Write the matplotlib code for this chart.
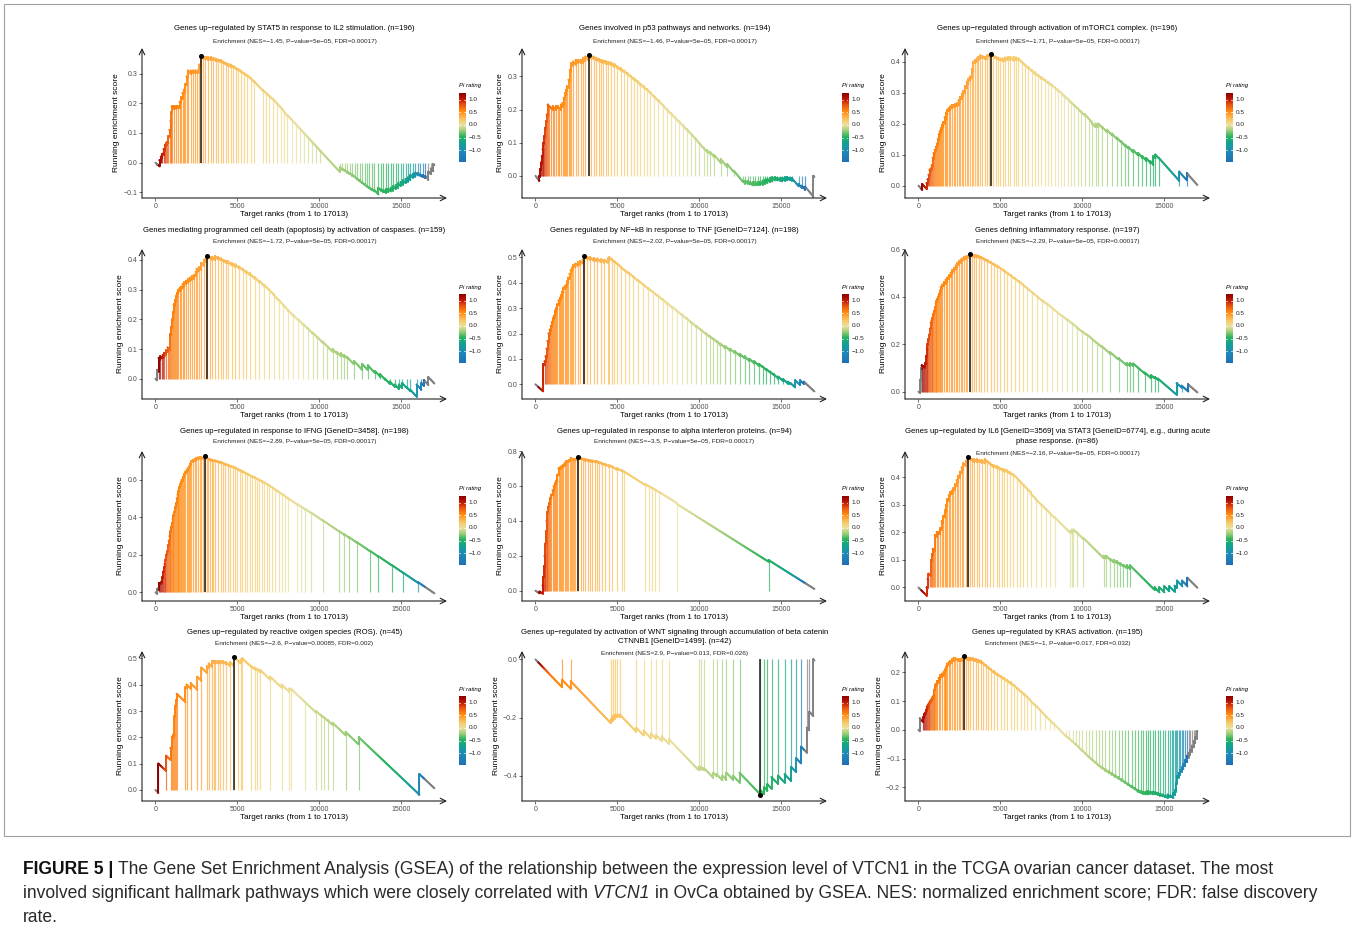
import numpy as np
import matplotlib
matplotlib.use("Agg")
import matplotlib.pyplot as plt
from matplotlib.collections import LineCollection
from matplotlib.colors import LinearSegmentedColormap, Normalize
from matplotlib.patches import Rectangle

plt.rcParams['font.family'] = ['Liberation Sans', 'DejaVu Sans']
plt.rcParams['axes.unicode_minus'] = True

W, H, DPI = 1354, 934, 100
N_RANKS = 17013

# ---------------------------------------------------------------- data
titles = [
    ["Genes up\u2212regulated by STAT5 in response to IL2 stimulation. (n=196)"],
    ["Genes involved in p53 pathways and networks. (n=194)"],
    ["Genes up\u2212regulated through activation of mTORC1 complex. (n=196)"],
    ["Genes mediating programmed cell death (apoptosis) by activation of caspases. (n=159)"],
    ["Genes regulated by NF\u2212kB in response to TNF [GeneID=7124]. (n=198)"],
    ["Genes defining inflammatory response. (n=197)"],
    ["Genes up\u2212regulated in response to IFNG [GeneID=3458]. (n=198)"],
    ["Genes up\u2212regulated in response to alpha interferon proteins. (n=94)"],
    ["Genes up\u2212regulated by IL6 [GeneID=3569] via STAT3 [GeneID=6774], e.g., during acute",
     "phase response. (n=86)"],
    ["Genes up\u2212regulated by reactive oxigen species (ROS). (n=45)"],
    ["Genes up\u2212regulated by activation of WNT signaling through accumulation of beta catenin",
     "CTNNB1 [GeneID=1499]. (n=42)"],
    ["Genes up\u2212regulated by KRAS activation. (n=195)"],
]
subtitles = [
    "Enrichment (NES=\u22121.45, P\u2212value=5e\u221205, FDR=0.00017)",
    "Enrichment (NES=\u22121.46, P\u2212value=5e\u221205, FDR=0.00017)",
    "Enrichment (NES=\u22121.71, P\u2212value=5e\u221205, FDR=0.00017)",
    "Enrichment (NES=\u22121.72, P\u2212value=5e\u221205, FDR=0.00017)",
    "Enrichment (NES=\u22122.02, P\u2212value=5e\u221205, FDR=0.00017)",
    "Enrichment (NES=\u22122.29, P\u2212value=5e\u221205, FDR=0.00017)",
    "Enrichment (NES=\u22122.89, P\u2212value=5e\u221205, FDR=0.00017)",
    "Enrichment (NES=\u22123.5, P\u2212value=5e\u221205, FDR=0.00017)",
    "Enrichment (NES=\u22122.16, P\u2212value=5e\u221205, FDR=0.00017)",
    "Enrichment (NES=\u22122.6, P\u2212value=0.00085, FDR=0.002)",
    "Enrichment (NES=2.9, P\u2212value=0.013, FDR=0.026)",
    "Enrichment (NES=\u22121, P\u2212value=0.017, FDR=0.032)",
]
set_sizes = [196, 194, 196, 159, 198, 197, 198, 94, 86, 45, 42, 195]

# (rank of member gene, running enrichment score right after it)
hits_stat5 = [(120,-0.005),(250,0.008),(330,0.02),(420,0.03),(500,0.045),(580,0.06),(650,0.065),(720,0.07),
    (790,0.09),(860,0.11),(920,0.14),(960,0.17),(1000,0.19),(1150,0.19),(1280,0.19),(1390,0.19),(1480,0.205),
    (1560,0.22),(1650,0.235),(1730,0.245),(1820,0.265),(1900,0.29),(1980,0.31),(2150,0.31),(2300,0.31),
    (2430,0.31),(2550,0.31),(2670,0.33),(2755,0.36),(2900,0.358),(3050,0.356),(3200,0.355),(3370,0.355),
    (3530,0.352),(3680,0.35),(3830,0.347),(3980,0.345),(4130,0.34),(4290,0.335),(4440,0.332),(4590,0.33),
    (4750,0.325),(4900,0.32),(5050,0.315),(5200,0.31),(5400,0.302),(5600,0.295),(5800,0.285),(6000,0.275),
    (6550,0.245),(6750,0.235),(6950,0.225),(7150,0.215),(7400,0.2),(7650,0.185),(7850,0.17),(8050,0.16),
    (8300,0.145),(8550,0.13),(8800,0.115),(9050,0.1),(9300,0.085),(9550,0.07),(9800,0.055),(10050,0.04),
    (11250,-0.015),(11400,-0.02),(11550,-0.025),(11700,-0.03),(11850,-0.035),(12000,-0.04),(12150,-0.047),
    (12300,-0.054),(12450,-0.06),(12600,-0.066),(12750,-0.072),(12900,-0.078),(13050,-0.084),(13200,-0.088),
    (13350,-0.092),(13600,-0.085),(13750,-0.09),(13900,-0.093),(14050,-0.09),(14200,-0.088),(14350,-0.085),
    (14500,-0.08),(14650,-0.076),(14800,-0.07),(14950,-0.065),(15100,-0.06),(15250,-0.055),(15400,-0.05),
    (15550,-0.042),(15700,-0.038),(15850,-0.034),(16000,-0.035),(16150,-0.04),(16300,-0.043),(16450,-0.045),
    (16650,-0.03),(16800,-0.02),(16950,-0.005)]
hits_p53 = [(130,-0.008),(240,0.0),(290,0.02),(340,0.04),(390,0.06),(440,0.08),(490,0.1),(540,0.12),
    (590,0.145),(640,0.165),(690,0.185),(750,0.215),(850,0.21),(950,0.205),(1050,0.21),(1150,0.205),
    (1250,0.21),(1350,0.21),(1450,0.205),(1550,0.215),(1650,0.22),(1730,0.235),(1800,0.25),(1880,0.26),
    (1950,0.27),(2020,0.29),(2100,0.32),(2180,0.34),(2300,0.345),(2450,0.35),(2600,0.35),(2750,0.35),
    (2900,0.355),(3050,0.36),(3240,0.366),(3400,0.362),(3550,0.36),(3700,0.356),(3850,0.353),(4000,0.35),
    (4150,0.348),(4300,0.346),(4450,0.344),(4600,0.342),(4800,0.338),(5000,0.33),(5200,0.325),(5400,0.318),
    (5600,0.31),(5800,0.302),(6000,0.295),(6200,0.287),(6400,0.278),(6600,0.27),(6800,0.262),(7000,0.252),
    (7250,0.24),(7500,0.228),(7750,0.215),(8000,0.202),(8250,0.19),(8500,0.177),(8750,0.165),(9000,0.152),
    (9250,0.14),(9500,0.127),(9750,0.113),(10000,0.098),(10250,0.085),(10450,0.078),(10650,0.072),
    (10900,0.063),(11300,0.05),(11700,0.035),(12100,0.015),(12650,-0.015),(12800,-0.015),(12950,-0.017),
    (13100,-0.02),(13250,-0.02),(13400,-0.02),(13550,-0.019),(13700,-0.018),(13850,-0.015),(14000,-0.012),
    (14150,-0.01),(14300,-0.008),(14450,-0.005),(14600,-0.005),(14750,-0.006),(14900,-0.008),(15050,-0.006),
    (15200,-0.005),(15350,-0.004),(15500,-0.006),(15650,-0.008),(16050,-0.025),(16250,-0.03),(16450,-0.033),
    (16950,0.0)]
hits_mtorc1 = [(230,0.005),(500,0.008),(560,0.02),(620,0.035),(680,0.05),(740,0.055),(810,0.065),(870,0.09),
    (930,0.105),(990,0.115),(1060,0.125),(1120,0.135),(1180,0.15),(1240,0.165),(1300,0.175),(1370,0.185),
    (1440,0.195),(1520,0.205),(1600,0.22),(1690,0.235),(1770,0.245),(1850,0.25),(1950,0.255),(2050,0.26),
    (2150,0.26),(2250,0.262),(2350,0.265),(2450,0.275),(2550,0.285),(2650,0.295),(2745,0.305),(2850,0.32),
    (2950,0.335),(3050,0.345),(3150,0.352),(3250,0.375),(3355,0.4),(3450,0.405),(3560,0.41),(3660,0.415),
    (3760,0.42),(3900,0.418),(4070,0.415),(4200,0.42),(4300,0.422),(4410,0.426),(4550,0.42),(4700,0.416),
    (4850,0.413),(5000,0.41),(5150,0.41),(5300,0.413),(5450,0.415),(5600,0.415),(5800,0.415),(5950,0.413),
    (6100,0.41),(6300,0.4),(6500,0.39),(6700,0.382),(6900,0.372),(7100,0.365),(7300,0.357),(7500,0.35),
    (7700,0.342),(7900,0.335),(8100,0.327),(8300,0.318),(8500,0.31),(8700,0.3),(8900,0.29),(9100,0.28),
    (9300,0.27),(9500,0.26),(9700,0.25),(9900,0.24),(10150,0.23),(10400,0.215),(10600,0.2),(10800,0.2),
    (10980,0.2),(11200,0.19),(11500,0.18),(11800,0.168),(12100,0.155),(12350,0.143),(12600,0.132),
    (12800,0.125),(13100,0.115),(13400,0.105),(13650,0.095),(13900,0.088),(14150,0.078),(14330,0.095),
    (14450,0.1),(14650,0.09),(15900,0.045),(16370,0.04)]
hits_caspase = [(100,0.03),(200,0.07),(300,0.075),(400,0.072),(450,0.08),(550,0.087),(650,0.095),(740,0.105),
    (830,0.1),(885,0.15),(950,0.175),(1030,0.2),(1080,0.225),(1120,0.25),(1200,0.265),(1270,0.28),(1330,0.29),
    (1390,0.3),(1480,0.305),(1560,0.31),(1660,0.318),(1770,0.325),(1870,0.33),(1980,0.335),(2100,0.34),
    (2210,0.345),(2360,0.35),(2450,0.36),(2510,0.37),(2650,0.375),(2800,0.39),(2950,0.4),(3060,0.405),
    (3160,0.415),(3300,0.41),(3450,0.41),(3630,0.413),(3800,0.41),(3980,0.405),(4150,0.4),(4300,0.397),
    (4430,0.395),(4650,0.39),(4870,0.385),(5100,0.378),(5310,0.37),(5530,0.362),(5750,0.355),(6050,0.342),
    (6340,0.33),(6650,0.315),(6930,0.3),(7200,0.283),(7520,0.265),(7800,0.248),(8110,0.23),(8400,0.215),
    (8700,0.2),(9000,0.185),(9290,0.17),(9600,0.155),(9880,0.14),(10200,0.125),(10470,0.11),(10800,0.1),
    (11060,0.09),(11300,0.085),(11500,0.08),(11700,0.072),(12100,0.06),(12600,0.05),(12950,0.045),
    (13400,0.025),(13700,0.015),(14000,0.0),(14300,-0.01),(14600,-0.02),(14850,-0.02),(15050,-0.015),
    (15340,-0.03),(15550,-0.038),(15930,-0.02),(16220,-0.015),(16370,-0.005),(16650,0.005)]
hits_tnf = [(470,0.08),(560,0.09),(620,0.11),(680,0.14),(740,0.17),(800,0.2),(870,0.215),(940,0.23),
    (1000,0.245),(1060,0.26),(1120,0.27),(1190,0.29),(1270,0.3),(1340,0.315),(1410,0.33),(1490,0.34),
    (1560,0.35),(1640,0.365),(1710,0.38),(1780,0.385),(1855,0.39),(1930,0.405),(2000,0.42),(2080,0.435),
    (2150,0.45),(2230,0.46),(2300,0.47),(2440,0.475),(2590,0.48),(2740,0.485),(2890,0.49),(2975,0.505),
    (3150,0.502),(3330,0.5),(3550,0.497),(3770,0.495),(4000,0.492),(4210,0.49),(4400,0.495),(4505,0.5),
    (4650,0.492),(4800,0.485),(5000,0.475),(5240,0.46),(5450,0.45),(5680,0.44),(5950,0.425),(6270,0.41),
    (6550,0.395),(6860,0.38),(7150,0.365),(7450,0.35),(7750,0.335),(8040,0.32),(8350,0.305),(8630,0.29),
    (8920,0.275),(9220,0.26),(9500,0.245),(9810,0.23),(10100,0.215),(10400,0.2),(10620,0.19),(10840,0.18),
    (11050,0.17),(11280,0.16),(11580,0.15),(11870,0.14),(12150,0.13),(12460,0.12),(12750,0.11),(13050,0.1),
    (13350,0.09),(13640,0.08),(13850,0.07),(14080,0.06),(14300,0.05),(14520,0.04),(14810,0.03),(15110,0.02),
    (15400,0.01),(15550,0.005),(15840,0.015),(16140,0.015),(16370,0.01)]
hits_inflam = [(100,0.05),(150,0.1),(200,0.11),(300,0.108),(345,0.105),(405,0.12),(460,0.15),(510,0.18),
    (550,0.2),(600,0.22),(650,0.24),(700,0.265),(750,0.29),(800,0.3),(850,0.31),(900,0.325),(950,0.34),
    (1000,0.355),(1055,0.37),(1100,0.38),(1155,0.39),(1200,0.4),(1255,0.41),(1310,0.425),(1360,0.44),
    (1460,0.45),(1560,0.46),(1660,0.47),(1765,0.48),(1865,0.49),(1965,0.5),(2070,0.51),(2170,0.52),
    (2270,0.53),(2370,0.54),(2470,0.548),(2575,0.555),(2675,0.56),(2775,0.565),(2880,0.568),(2980,0.57),
    (3120,0.577),(3250,0.576),(3385,0.575),(3540,0.573),(3690,0.57),(3840,0.565),(3990,0.56),(4200,0.553),
    (4400,0.545),(4600,0.537),(4800,0.53),(5000,0.52),(5210,0.51),(5410,0.5),(5615,0.49),(5870,0.477),
    (6120,0.465),(6370,0.45),(6630,0.435),(6930,0.418),(7240,0.4),(7540,0.385),(7845,0.37),(8150,0.352),
    (8450,0.335),(8750,0.32),(9060,0.305),(9360,0.288),(9670,0.27),(9970,0.255),(10275,0.24),(10580,0.222),
    (10885,0.205),(11190,0.19),(11700,0.165),(12200,0.14),(12700,0.12),(12900,0.12),(13100,0.118),
    (13400,0.1),(13800,0.08),(14200,0.068),(14400,0.062),(14600,0.055),(15750,0.035),(16050,0.025),
    (16450,0.03)]
hits_ifng = [(120,0.02),(210,0.05),(300,0.05),(360,0.055),(415,0.08),(470,0.11),(520,0.135),(560,0.15),
    (610,0.175),(660,0.2),(710,0.22),(760,0.25),(810,0.275),(860,0.3),(910,0.325),(960,0.35),(1000,0.37),
    (1050,0.39),(1100,0.41),(1150,0.43),(1200,0.455),(1250,0.475),(1300,0.5),(1350,0.52),(1400,0.54),
    (1450,0.56),(1500,0.575),(1550,0.59),(1600,0.6),(1680,0.615),(1750,0.63),(1820,0.64),(1895,0.65),
    (1970,0.66),(2040,0.67),(2110,0.685),(2190,0.7),(2290,0.705),(2390,0.71),(2490,0.715),(2600,0.718),
    (2700,0.72),(2780,0.72),(2930,0.716),(3020,0.725),(3150,0.715),(3230,0.71),(3350,0.708),(3450,0.706),
    (3520,0.705),(3650,0.702),(3800,0.698),(3970,0.695),(4100,0.69),(4250,0.685),(4410,0.68),(4550,0.675),
    (4700,0.67),(4855,0.665),(5000,0.658),(5150,0.652),(5300,0.645),(5450,0.638),(5600,0.632),(5740,0.625),
    (5900,0.618),(6050,0.612),(6200,0.605),(6335,0.6),(6500,0.592),(6650,0.585),(6800,0.577),(6925,0.57),
    (7100,0.56),(7300,0.548),(7520,0.535),(7700,0.525),(7900,0.512),(8110,0.5),(8650,0.47),(8900,0.456),
    (9150,0.443),(9500,0.424),(10200,0.384),(11200,0.326),(11500,0.31),(11800,0.294),(12300,0.266),
    (13100,0.22),(13600,0.192),(14400,0.146),(15100,0.105),(16000,0.055)]
hits_ifna = [(250,-0.005),(440,0.03),(480,0.08),(520,0.14),(560,0.2),(600,0.27),(640,0.34),(680,0.4),
    (720,0.45),(770,0.48),(825,0.5),(900,0.53),(970,0.55),(1050,0.575),(1120,0.6),(1200,0.615),(1265,0.63),
    (1340,0.665),(1410,0.7),(1490,0.705),(1560,0.71),(1640,0.715),(1710,0.72),(1780,0.73),(1855,0.74),
    (1930,0.742),(2000,0.745),(2080,0.75),(2150,0.76),(2230,0.755),(2300,0.75),(2370,0.752),(2440,0.755),
    (2520,0.76),(2590,0.765),(2750,0.76),(2890,0.755),(3050,0.752),(3180,0.75),(3350,0.747),(3475,0.745),
    (3650,0.742),(3770,0.74),(3900,0.736),(4065,0.73),(4250,0.725),(4500,0.718),(4650,0.712),(5000,0.7),
    (5250,0.69),(5400,0.682),(6700,0.61),(6900,0.6),(7100,0.59),(7300,0.578),(7550,0.565),(8650,0.495),
    (14220,0.175)]
hits_il6 = [(500,0.0),(560,0.03),(610,0.05),(710,0.045),(770,0.1),(820,0.12),(870,0.14),(950,0.135),
    (1010,0.19),(1115,0.2),(1215,0.2),(1320,0.215),(1420,0.24),(1520,0.26),(1620,0.28),(1700,0.3),
    (1765,0.32),(1850,0.335),(1925,0.345),(2030,0.35),(2130,0.36),(2230,0.375),(2330,0.39),(2430,0.405),
    (2535,0.42),(2630,0.435),(2735,0.45),(2900,0.46),(3000,0.475),(3120,0.468),(3245,0.465),(3400,0.465),
    (3550,0.465),(3700,0.462),(3850,0.462),(4050,0.465),(4200,0.458),(4360,0.45),(4560,0.445),(4765,0.44),
    (4920,0.435),(5070,0.43),(5220,0.428),(5370,0.425),(5580,0.418),(5780,0.41),(6000,0.397),(6180,0.385),
    (6400,0.372),(6590,0.36),(6850,0.34),(7150,0.32),(7500,0.3),(7800,0.283),(8000,0.27),(8300,0.255),
    (9250,0.205),(9350,0.21),(9450,0.21),(9650,0.2),(10050,0.18),(11300,0.115),(11450,0.115),(11700,0.103),
    (11900,0.1),(12100,0.095),(12300,0.088),(12500,0.082),(12700,0.08),(12900,0.08),(14400,0.0),(14700,0.0),
    (15000,0.004),(15300,0.004),(15620,0.006),(15760,0.025),(16070,0.025),(16400,0.035)]
hits_ros = [(180,0.10),(650,0.13),(920,0.16),(1000,0.20),(1070,0.21),(1160,0.28),(1200,0.32),(1250,0.34),
    (1300,0.365),(1830,0.39),(1900,0.40),(2150,0.405),(2550,0.43),(2800,0.465),(3150,0.47),(3250,0.48),
    (3450,0.49),(3550,0.49),(3650,0.49),(3800,0.49),(3950,0.49),(4100,0.49),(4300,0.485),(4550,0.485),
    (4800,0.505),(5050,0.49),(5200,0.495),(5300,0.50),(5850,0.47),(6050,0.465),(6200,0.46),(6400,0.455),
    (7000,0.43),(7700,0.40),(8150,0.385),(8250,0.385),(9100,0.335),(9800,0.30),(10100,0.285),(10300,0.275),
    (10500,0.265),(10800,0.255),(11600,0.22),(12400,0.20),(16100,0.06)]
hits_wnt = [(1630,-0.07),(2150,-0.075),(4600,-0.205),(4700,-0.195),(4850,-0.19),(5000,-0.19),(5150,-0.19),
    (6150,-0.235),(6600,-0.245),(7050,-0.255),(7350,-0.26),(7700,-0.265),(8150,-0.275),(9950,-0.37),
    (10100,-0.37),(10300,-0.375),(10850,-0.39),(11050,-0.395),(11400,-0.40),(11650,-0.39),(12050,-0.40),
    (12450,-0.39),(13720,-0.45),(13950,-0.44),(14150,-0.43),(14400,-0.405),(14800,-0.40),(15200,-0.395),
    (15600,-0.37),(15900,-0.34),(16200,-0.30),(16550,-0.235),(16700,-0.18),(16950,0.0)]
hits_kras = [(80,0.04),(300,0.045),(360,0.055),(410,0.06),(460,0.07),(510,0.08),(560,0.085),(615,0.09),
    (665,0.095),(715,0.1),(770,0.105),(820,0.11),(870,0.115),(920,0.12),(970,0.14),(1020,0.155),(1070,0.16),
    (1125,0.17),(1230,0.18),(1330,0.19),(1430,0.195),(1535,0.2),(1590,0.205),(1640,0.21),(1690,0.22),
    (1740,0.23),(1845,0.235),(1945,0.24),(2050,0.245),(2150,0.25),(2250,0.248),(2350,0.245),(2450,0.245),
    (2560,0.245),(2660,0.248),(2780,0.255),(2900,0.25),(3020,0.25),(3170,0.25),(3320,0.248),(3480,0.245),
    (3630,0.243),(3785,0.24),(3940,0.232),(4090,0.225),(4250,0.218),(4400,0.21),(4600,0.203),(4810,0.195),
    (5020,0.187),(5220,0.18),(5420,0.172),(5625,0.165),(5830,0.155),(6035,0.145),(6240,0.135),(6445,0.125),
    (6650,0.113),(6855,0.1),(7100,0.088),(7400,0.07),(7700,0.052),(8000,0.035),(8250,0.022),(9000,-0.02),
    (9200,-0.03),(9400,-0.04),(9600,-0.05),(9800,-0.062),(10000,-0.072),(10200,-0.083),(10400,-0.093),
    (10600,-0.103),(10800,-0.113),(11000,-0.122),(11200,-0.13),(11400,-0.137),(11600,-0.144),(11800,-0.151),
    (12000,-0.158),(12200,-0.165),(12400,-0.172),(12600,-0.18),(12800,-0.188),(13000,-0.195),(13200,-0.203),
    (13400,-0.21),(13550,-0.213),(13700,-0.215),(13850,-0.215),(14000,-0.213),(14150,-0.215),(14300,-0.215),
    (14450,-0.217),(14600,-0.22),(14750,-0.222),(14900,-0.225),(15050,-0.228),(15200,-0.225),(15350,-0.228),
    (15450,-0.23),(15550,-0.22),(15650,-0.21),(15720,-0.185),(15760,-0.16),(15860,-0.15),(15960,-0.14),
    (16060,-0.13),(16160,-0.12),(16260,-0.105),(16370,-0.09),(16470,-0.08),(16575,-0.07),(16680,-0.055),
    (16780,-0.04),(16880,-0.025),(16980,-0.005)]

panel_hits = [hits_stat5, hits_p53, hits_mtorc1, hits_caspase, hits_tnf, hits_inflam,
              hits_ifng, hits_ifna, hits_il6, hits_ros, hits_wnt, hits_kras]

# Pi rating of genes along the ranked list
pi_rank = [0, 180, 400, 650, 1000, 2000, 3500, 5500, 8000, 10000, 12000, 13500, 14800, 15600, 16050, 16450, 17013]
pi_value = [1.6, 1.27, 1.05, 0.8, 0.6, 0.5, 0.35, 0.2, 0.05, -0.1, -0.25, -0.4, -0.55, -0.75, -1.0, -1.47, -1.8]
PI_MIN, PI_MAX = -1.47, 1.27
cbar_ticks = [1.0, 0.5, 0.0, -0.5, -1.0]

x_ticks = [0, 5000, 10000, 15000]
y_ticks = [[-0.1, 0.0, 0.1, 0.2, 0.3], [0.0, 0.1, 0.2, 0.3], [0.0, 0.1, 0.2, 0.3, 0.4],
           [0.0, 0.1, 0.2, 0.3, 0.4], [0.0, 0.1, 0.2, 0.3, 0.4, 0.5], [0.0, 0.2, 0.4, 0.6],
           [0.0, 0.2, 0.4, 0.6], [0.0, 0.2, 0.4, 0.6, 0.8], [0.0, 0.1, 0.2, 0.3, 0.4],
           [0.0, 0.1, 0.2, 0.3, 0.4, 0.5], [-0.4, -0.2, 0.0], [-0.2, -0.1, 0.0, 0.1, 0.2]]
y_limits = [(-0.119, 0.386), (-0.067, 0.386), (-0.040, 0.444), (-0.0685, 0.437), (-0.058, 0.533),
            (-0.031, 0.600), (-0.046, 0.753), (-0.059, 0.800), (-0.049, 0.495), (-0.042, 0.528),
            (-0.487, 0.029), (-0.247, 0.274)]

caption_lines = [
    [("FIGURE 5 |", "bold"), ("The Gene Set Enrichment Analysis (GSEA) of the relationship between the expression "
      "level of VTCN1 in the TCGA ovarian cancer dataset. The most", "normal")],
    [("involved significant hallmark pathways which were closely correlated with", "normal"),
     ("VTCN1", "italic"),
     ("in OvCa obtained by GSEA. NES: normalized enrichment score; FDR: false discovery", "normal")],
    [("rate.", "normal")],
]

# ---------------------------------------------------------------- style
cmap_nodes = [(-1.47, '#1F6FB5'), (-1.0, '#1F8DB5'), (-0.7, '#12A390'), (-0.45, '#2AB35C'),
              (-0.2, '#A8D07C'), (0.0, '#EAE1A2'), (0.2, '#F7CB6A'), (0.4, '#FFA53A'),
              (0.55, '#FF8A10'), (0.8, '#EA5510'), (1.0, '#C41C05'), (1.27, '#8C0000')]
cmap = LinearSegmentedColormap.from_list(
    'pi', [((v - PI_MIN) / (PI_MAX - PI_MIN), c) for v, c in cmap_nodes])
norm = Normalize(PI_MIN, PI_MAX)
NA_GREY = np.array([0.5, 0.5, 0.5, 1.0])


def rank_colors(ranks):
    v = np.interp(np.asarray(ranks, float), pi_rank, pi_value)
    cols = cmap(norm(v))
    out = (v > PI_MAX) | (v < PI_MIN)
    cols[out] = NA_GREY
    return cols


def running_curve(ranks, scores, n):
    slope = 1.0 / (N_RANKS - n)
    xs, ys = [0.0], [0.0]
    pr, pe = 0.0, 0.0
    for r, v in zip(ranks, scores):
        xs += [r, r]
        ys += [pe - slope * (r - pr), v]
        pr, pe = r, v
    xs.append(N_RANKS)
    ys.append(pe - slope * (N_RANKS - pr))
    return np.array(xs, float), np.array(ys, float)


fig = plt.figure(figsize=(W / DPI, H / DPI), dpi=DPI)


def px_rect(left, top, width, height):
    return [left / W, 1 - (top + height) / H, width / W, height / H]


def fmt(v):
    return f"{v:.1f}".replace('-', '\u2212')


col_left = [142, 522, 905]
row_top = [48, 249, 451, 651]
AX_W, AX_H = 305, 150
cbar_left = [459, 842, 1226]
title_y = [(29, 41), (230, 241), (432, 442), (633, 644)]
title2_y = [(29, 38, 50), (230, 239, 251), (432, 441.5, 453), (632, 641.5, 653.5)]

for k in range(12):
    row, col = divmod(k, 3)
    left, top = col_left[col], row_top[row]
    ax = fig.add_axes(px_rect(left, top, AX_W, AX_H))
    ax.set_facecolor('none')
    for s in ax.spines.values():
        s.set_visible(False)
    ax.set_xlim(-820, 17780)
    ax.set_ylim(*y_limits[k])

    ranks = [p[0] for p in panel_hits[k]]
    scores = [p[1] for p in panel_hits[k]]
    xs, ys = running_curve(ranks, scores, set_sizes[k])

    # member-gene bars from 0 to the running score
    bars = [[(r, 0.0), (r, v)] for r, v in zip(ranks, scores)]
    bcol = rank_colors(ranks)
    bcol[:, 3] = 0.72
    ax.add_collection(LineCollection(bars, colors=bcol, linewidths=0.85, zorder=1))

    # running enrichment curve, coloured by Pi rating along the ranks
    segs, mids = [], []
    for i in range(len(xs) - 1):
        x0, x1, y0, y1 = xs[i], xs[i + 1], ys[i], ys[i + 1]
        if x1 - x0 <= 0:
            segs.append([(x0, y0), (x1, y1)])
            mids.append(x0)
        else:
            m = max(1, int(np.ceil((x1 - x0) / 60.0)))
            tx = np.linspace(x0, x1, m + 1)
            ty = np.linspace(y0, y1, m + 1)
            for j in range(m):
                segs.append([(tx[j], ty[j]), (tx[j + 1], ty[j + 1])])
                mids.append(0.5 * (tx[j] + tx[j + 1]))
    ax.add_collection(LineCollection(segs, colors=rank_colors(mids), linewidths=1.4,
                                     capstyle='round', zorder=3))
    ax.scatter(ranks, scores, s=2.2, c=rank_colors(ranks), linewidths=0, zorder=3.5)

    # leading-edge peak
    ip = int(np.argmax(np.abs(ys)))
    ax.plot([xs[ip], xs[ip]], [0, ys[ip]], color='#1a1a1a', lw=1.1, zorder=4, solid_capstyle='butt')
    ax.plot([xs[ip]], [ys[ip]], 'o', ms=2.6, color='black', zorder=5)

    ax.set_xticks(x_ticks)
    ax.set_xticklabels([str(t) for t in x_ticks])
    ax.set_yticks(y_ticks[k])
    ax.set_yticklabels([fmt(v) for v in y_ticks[k]])
    ax.tick_params(axis='both', length=2, width=0.5, color='#333333', labelsize=5.0,
                   labelcolor='#4D4D4D', pad=1.5, direction='out')
    ax.set_xlabel('Target ranks (from 1 to 17013)', fontsize=5.8, labelpad=1)
    ax.set_ylabel('Running enrichment score', fontsize=6.0, labelpad=2.5)

    akw = dict(arrowstyle='->,head_length=0.4,head_width=0.2', lw=0.8, color='#222222',
               shrinkA=0, shrinkB=0, mutation_scale=10)
    ax.annotate('', xy=(0, 1), xytext=(0, 0), xycoords='axes fraction',
                textcoords='axes fraction', arrowprops=akw, annotation_clip=False)
    ax.annotate('', xy=(1, 0), xytext=(0, 0), xycoords='axes fraction',
                textcoords='axes fraction', arrowprops=akw, annotation_clip=False)

    # titles
    cx = (left + AX_W / 2) / W
    if len(titles[k]) == 1:
        ty1, ty2 = title_y[row]
        fig.text(cx, 1 - ty1 / H, titles[k][0], ha='center', va='center', fontsize=5.6)
        fig.text(cx, 1 - ty2 / H, subtitles[k], ha='center', va='center', fontsize=4.6, color='#222222')
    else:
        ya, yb, yc = title2_y[row]
        fig.text(cx, 1 - ya / H, titles[k][0], ha='center', va='center', fontsize=5.6)
        fig.text(cx, 1 - yb / H, titles[k][1], ha='center', va='center', fontsize=5.6)
        fig.text(cx, 1 - yc / H, subtitles[k], ha='center', va='center', fontsize=4.6, color='#222222')

    # Pi rating colour bar
    cb_top = top + 45
    cax = fig.add_axes(px_rect(cbar_left[col], cb_top, 6.5, 69))
    grad = np.linspace(PI_MAX, PI_MIN, 256)[:, None]
    cax.imshow(grad, aspect='auto', cmap=cmap, norm=norm, extent=[0, 1, PI_MIN, PI_MAX], origin='upper')
    cax.set_xlim(0, 1)
    cax.set_ylim(PI_MIN, PI_MAX)
    cax.set_axis_off()
    for t in cbar_ticks:
        cax.plot([0, 0.2], [t, t], color='white', lw=0.5)
        cax.plot([0.8, 1], [t, t], color='white', lw=0.5)
        cax.text(1.45, t, fmt(t), ha='left', va='center', fontsize=4.6, color='#222222',
                 transform=cax.transData, clip_on=False)
    fig.text(cbar_left[col] / W, 1 - (top + 38) / H, 'Pi rating', ha='left', va='center',
             fontsize=4.3, style='italic')

# border around the figure area
fig.add_artist(Rectangle((4 / W, 1 - 836 / H), 1346 / W, 832 / H, transform=fig.transFigure,
                         fill=False, ec='#A0A0A0', lw=0.8))

# caption
renderer = fig.canvas.get_renderer()


def text_width(s, size, weight='normal', style='normal'):
    t = fig.text(0, 0, s, fontsize=size, weight=weight, style=style)
    w = t.get_window_extent(renderer=renderer).width
    t.remove()
    return w


base = 12.0
line1_w = sum(text_width(s, base, weight=('bold' if st == 'bold' else 'normal'))
              for s, st in caption_lines[0]) + text_width('a a', base) - text_width('aa', base)
cap_size = base * 1255.0 / line1_w
space_w = text_width('a a', cap_size) - text_width('aa', cap_size)
cap_y = [869, 893, 917]
for line, yy in zip(caption_lines, cap_y):
    x = 23.0
    for s, st in line:
        kw = {}
        if st == 'bold':
            kw['weight'] = 'bold'
            kw['color'] = '#111111'
        elif st == 'italic':
            kw['style'] = 'italic'
            kw['color'] = '#2a2a2a'
        else:
            kw['color'] = '#2a2a2a'
        t = fig.text(x / W, 1 - yy / H, s, fontsize=cap_size, ha='left', va='center', **kw)
        x += t.get_window_extent(renderer=renderer).width + space_w

fig.savefig('out.png', dpi=DPI)
